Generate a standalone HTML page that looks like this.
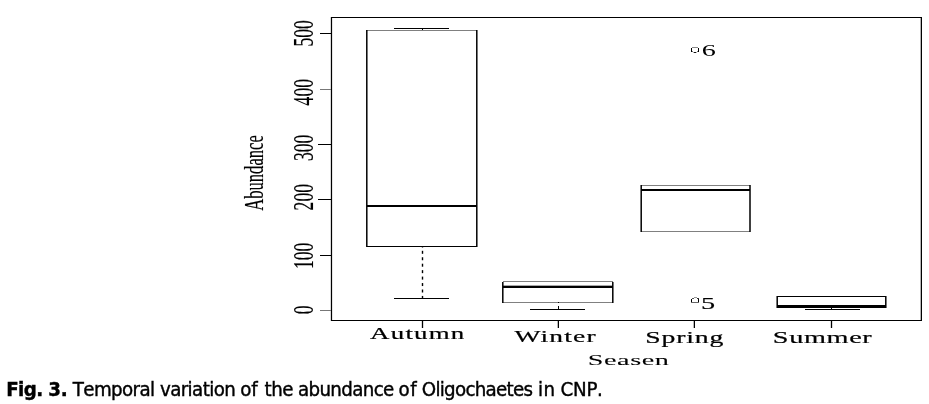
<!DOCTYPE html>
<html>
<head>
<meta charset="utf-8">
<style>
html,body{margin:0;padding:0;background:#fff;}
body{width:929px;height:404px;position:relative;overflow:hidden;}
svg{position:absolute;left:0;top:0;}
.cap{position:absolute;left:0px;top:377.9px;-webkit-text-stroke:0.4px #000;font-kerning:none;white-space:nowrap;font-family:"DejaVu Sans Condensed","DejaVu Sans",sans-serif;font-size:20.3px;color:#000;line-height:22px;}
.cap .w{position:absolute;top:0;}
.cap .b{font-weight:bold;}
</style>
</head>
<body>
<svg width="929" height="404" viewBox="0 0 929 404">
<g fill="#000" shape-rendering="crispEdges">
<!-- frame -->
<rect x="331" y="17" width="591" height="1"/>
<rect x="331" y="320" width="591" height="1"/>
<rect x="331" y="17" width="1" height="304"/>
<rect x="921" y="17" width="1" height="304"/>
<rect x="920" y="18" width="1" height="302" fill="#b4b4b4"/>
<rect x="330" y="17" width="1" height="304" fill="#d8d8d8"/>
<rect x="332" y="18" width="1" height="302" fill="#e4e4e4"/>
<!-- y ticks -->
<rect x="320" y="33" width="11" height="1"/>
<rect x="320" y="89" width="11" height="1" fill="#777"/>
<rect x="318" y="144" width="13" height="1"/>
<rect x="318" y="199" width="13" height="1"/>
<rect x="320" y="255" width="11" height="1"/>
<rect x="320" y="310" width="11" height="1" fill="#777"/>
<!-- x ticks -->
<rect x="422" y="321" width="1" height="7"/>
<rect x="421" y="321" width="1" height="7" fill="#d8d8d8"/>
<rect x="423" y="321" width="1" height="7" fill="#d8d8d8"/>
<rect x="558" y="321" width="1" height="7"/>
<rect x="557" y="321" width="1" height="7" fill="#b8b8b8"/>
<rect x="694" y="321" width="1" height="7"/>
<rect x="693" y="321" width="1" height="7" fill="#b8b8b8"/>
<rect x="831" y="321" width="1" height="7"/>
<rect x="830" y="321" width="1" height="7" fill="#d8d8d8"/>
<rect x="832" y="321" width="1" height="7" fill="#d8d8d8"/>
</g>

<g shape-rendering="crispEdges">
<!-- Autumn horizontals -->
<rect x="394" y="28" width="55" height="1" fill="#000"/>
<rect x="367" y="30" width="110" height="1" fill="#808080"/>
<rect x="367" y="205" width="110" height="2" fill="#000"/>
<rect x="367" y="246" width="110" height="1" fill="#000"/>
<rect x="394" y="298" width="55" height="1" fill="#000"/>
<!-- Winter -->
<rect x="503" y="281" width="110" height="1" fill="#808080"/>
<rect x="503" y="285" width="110" height="1" fill="#a8a8a8"/>
<rect x="503" y="286" width="110" height="2" fill="#000"/>
<rect x="503" y="302" width="110" height="1" fill="#808080"/>
<rect x="530" y="309" width="55" height="1" fill="#000"/>
<!-- Spring -->
<rect x="641" y="185" width="109" height="1" fill="#808080"/>
<rect x="641" y="189" width="109" height="2" fill="#000"/>
<rect x="641" y="231" width="109" height="1" fill="#808080"/>
<!-- Summer -->
<rect x="777" y="296" width="109" height="1" fill="#000"/>
<rect x="777" y="305" width="109" height="3" fill="#000"/>
<rect x="805" y="309" width="55" height="1" fill="#000"/>
</g>
<g fill="none" stroke="#000">
<!-- Autumn -->
<line x1="366.8" y1="30" x2="366.8" y2="247" stroke-width="1.5"/>
<line x1="476.8" y1="30" x2="476.8" y2="247" stroke-width="1.5"/>
<!-- Winter -->
<line x1="502.8" y1="282" x2="502.8" y2="303" stroke-width="1.5"/>
<line x1="612.8" y1="282" x2="612.8" y2="303" stroke-width="1.5"/>
<!-- Spring -->
<line x1="641.2" y1="185" x2="641.2" y2="232" stroke-width="1.5"/>
<line x1="750" y1="185" x2="750" y2="232" stroke-width="1.5"/>
<!-- Summer -->
<line x1="777.2" y1="296" x2="777.2" y2="308" stroke-width="1.5"/>
<line x1="885.8" y1="296" x2="885.8" y2="308" stroke-width="1.5"/>
</g>
<g fill="#000" shape-rendering="crispEdges">
<!-- Autumn whisker dashes -->
<rect x="422" y="29" width="1" height="1"/>
<!-- Winter whisker -->
<rect x="558" y="302" width="1" height="1"/>
<rect x="558" y="306" width="1" height="3"/>
<!-- Summer whisker -->
<rect x="831" y="308" width="1" height="1"/>
</g>
<g fill="#000">
<rect x="421.8" y="246" width="1.4" height="1.5"/>
<rect x="421.8" y="250.80" width="1.4" height="3"/>
<rect x="421.8" y="257.25" width="1.4" height="3"/>
<rect x="421.8" y="263.70" width="1.4" height="3"/>
<rect x="421.8" y="270.15" width="1.4" height="3"/>
<rect x="421.8" y="276.60" width="1.4" height="3"/>
<rect x="421.8" y="283.05" width="1.4" height="3"/>
<rect x="421.8" y="289.50" width="1.4" height="3"/>
<rect x="421.8" y="295.95" width="1.4" height="3"/>
</g>
<!-- outliers -->
<g shape-rendering="crispEdges">
<rect x="692" y="47" width="6" height="1" fill="#8a8a8a"/>
<rect x="691" y="48" width="1" height="4" fill="#000"/>
<rect x="698" y="48" width="1" height="4" fill="#000"/>
<rect x="692" y="51" width="1" height="1" fill="#777"/>
<rect x="697" y="51" width="1" height="1" fill="#777"/>
<rect x="693" y="52" width="1" height="1" fill="#aaa"/>
<rect x="694" y="52" width="2" height="1" fill="#111"/>
<rect x="696" y="52" width="1" height="1" fill="#aaa"/>
</g>
<g shape-rendering="crispEdges">
<rect x="694" y="297" width="3" height="1" fill="#999"/>
<rect x="692" y="298" width="2" height="1" fill="#555"/>
<rect x="697" y="298" width="2" height="1" fill="#333"/>
<rect x="691" y="299" width="1" height="3" fill="#000"/>
<rect x="698" y="299" width="1" height="3" fill="#000"/>
<rect x="691" y="302" width="8" height="1" fill="#666"/>
</g>
<g font-family="Liberation Serif, serif" font-size="16.6" fill="#000" stroke="#000" stroke-width="0.2">
<text stroke-width="0" transform="translate(701.8,56) scale(1.7,1)">6</text>
<text stroke-width="0.15" transform="translate(700.9,309) scale(1.7,1)">5</text>
<!-- x labels -->
<text text-anchor="middle" letter-spacing="0.75" transform="translate(417.8,339) scale(1.62,1)">Autumn</text>
<text text-anchor="middle" letter-spacing="0.7" transform="translate(555.6,342.3) scale(1.66,1)">Winter</text>
<text text-anchor="middle" letter-spacing="0.5" transform="translate(684.7,343) scale(1.67,1)">Spring</text>
<text text-anchor="middle" letter-spacing="0.4" transform="translate(822.6,342.8) scale(1.7,1)">Summer</text>
<text text-anchor="middle" font-size="15.2" letter-spacing="0.3" stroke-width="0.06" transform="translate(628.6,364.8) scale(1.86,1)">Seasen</text>
<!-- y labels -->
<g text-anchor="middle" stroke-width="0.08">
<text transform="translate(313,309.9) scale(1.7,1) rotate(-90)" font-size="17.6">0</text>
<text transform="translate(313,255.8) scale(1.7,1) rotate(-90)" font-size="17.6">100</text>
<text transform="translate(313,197.2) scale(1.7,1) rotate(-90)" font-size="17.6">200</text>
<text transform="translate(313,147.8) scale(1.7,1) rotate(-90)" font-size="17.6">300</text>
<text transform="translate(313,92.2) scale(1.7,1) rotate(-90)" font-size="17.6">400</text>
<text transform="translate(313,33.4) scale(1.7,1) rotate(-90)" font-size="17.6">500</text>
<text transform="translate(263,173.0) scale(1.7,1) rotate(-90)">Abundance</text>
</g>
</g>
</svg>
<div class="cap"><span class="w b" style="left:6.25px;letter-spacing:-0.600px">Fig.</span><span class="w b" style="left:48.34px;letter-spacing:-0.350px">3.</span><span class="w" style="left:72.80px;letter-spacing:-0.615px">Temporal</span><span class="w" style="left:159.99px;letter-spacing:-0.612px">variation</span><span class="w" style="left:240.24px;letter-spacing:-0.100px">of</span><span class="w" style="left:264.53px;letter-spacing:-0.433px">the</span><span class="w" style="left:297.92px;letter-spacing:-0.644px">abundance</span><span class="w" style="left:398.59px;letter-spacing:0.400px">of</span><span class="w" style="left:421.78px;letter-spacing:-0.717px">Oligochaetes</span><span class="w" style="left:538.12px;letter-spacing:0.200px">in</span><span class="w" style="left:560.60px;letter-spacing:-0.300px">CNP.</span></div>
</body>
</html>
